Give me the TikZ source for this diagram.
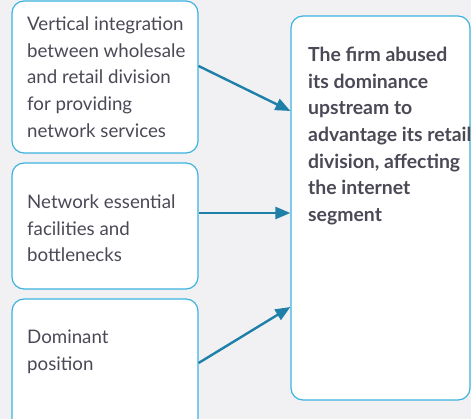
\documentclass[tikz,border=0pt]{standalone}
\usepackage{fontspec}
\setmainfont{Lato}
\usetikzlibrary{arrows.meta}
\definecolor{bgc}{HTML}{F1F1F4}
\definecolor{boxc}{HTML}{3DB3E0}
\definecolor{arrc}{HTML}{1E80A9}
\definecolor{txtc}{HTML}{4A4956}
\tikzset{
  box/.style={draw=boxc, line width=1.2pt, fill=white, rounded corners=12pt, inner sep=0pt, minimum width=186pt},
  txt/.style={anchor=north west, inner sep=0pt, align=left, text=txtc, font=\fontsize{18.7}{26.7}\selectfont},
  btxt/.style={txt, font=\fontsize{19.4}{26.6}\selectfont\bfseries},
  conn/.style={draw=arrc, line width=2.4pt, -{Triangle[length=15pt,width=12pt]}}
}
\begin{document}
\begin{tikzpicture}[x=1pt,y=-1pt]
\fill[bgc] (0,0) rectangle (471,419);
\useasboundingbox (0,0) rectangle (471,419);
\node[box, minimum height=152pt] (b1) at (105,77) {};
\node[box, minimum height=126pt] (b2) at (105,226) {};
\node[box, minimum height=141pt] (b3) at (105,369.5) {};
\node[box, minimum width=179pt, minimum height=384pt] (big) at (380.5,208) {};
\node[txt] (t1) at (27,16.5) {Vertical integration\\between wholesale\\and retail division\\for providing\\network services};
\node[txt] (t2) at (27,194.5) {Network essential\\facilities and\\bottlenecks};
\node[txt] (t3) at (27,329.5) {Dominant\\position};
\node[btxt] (t4) at (308,47) {The firm abused\\its dominance\\upstream to\\advantage its retail\\division, affecting\\the internet\\segment};
\draw[conn] ([yshift=11pt]b1.east) -- ([yshift=97pt]big.west);
\draw[conn] ([yshift=13pt]b2.east) -- ([yshift=-5pt]big.west);
\draw[conn] ([yshift=6.5pt]b3.east) -- ([yshift=-99pt]big.west);
\end{tikzpicture}
\end{document}
